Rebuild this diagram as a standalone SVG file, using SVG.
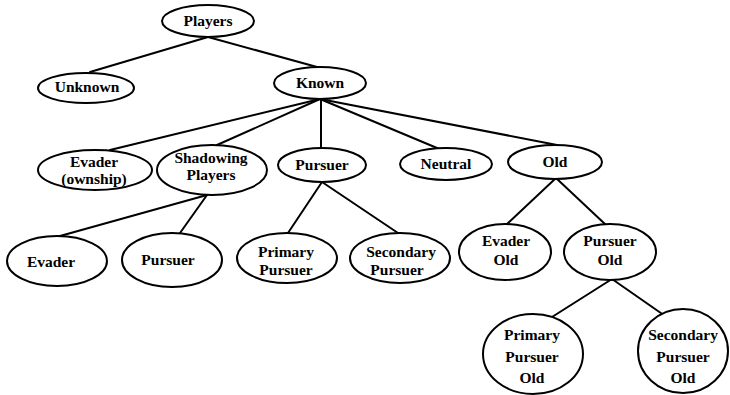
<svg xmlns="http://www.w3.org/2000/svg" width="730" height="395" viewBox="0 0 730 395">
  <style>
    .node ellipse { fill: #ffffff; stroke: #000000; stroke-width: 2; }
    .node text { font-weight: bold; font-size: 15.5px; fill: #000000; text-anchor: middle; }
    #connectors line { stroke: #000000; stroke-width: 2; stroke-linecap: round; }
  </style>
  <rect width="730" height="395" fill="#ffffff"/>

  <!-- tree edges -->
  <g id="connectors">
    <line x1="208" y1="37" x2="90" y2="72"/>
    <line x1="208" y1="37" x2="317" y2="67"/>
    <line x1="320" y1="99" x2="110" y2="150"/>
    <line x1="320" y1="99" x2="217" y2="145"/>
    <line x1="321" y1="99" x2="321" y2="148"/>
    <line x1="320" y1="99" x2="437" y2="148"/>
    <line x1="320" y1="99" x2="557" y2="145"/>
    <line x1="207" y1="195" x2="60" y2="236"/>
    <line x1="207" y1="195" x2="180" y2="233"/>
    <line x1="322" y1="182" x2="288" y2="233"/>
    <line x1="322" y1="182" x2="398" y2="233"/>
    <line x1="556" y1="178" x2="507" y2="224"/>
    <line x1="556" y1="178" x2="606" y2="225"/>
    <line x1="612" y1="279" x2="552" y2="317"/>
    <line x1="612" y1="279" x2="668" y2="318"/>
  </g>

  <g id="nodes" font-family="Liberation Serif, DejaVu Serif, serif">
  <g id="players" class="node">
    <ellipse cx="208" cy="21" rx="46" ry="16"/>
    <text x="208" y="26">Players</text>
  </g>
  <g id="unknown" class="node">
    <ellipse cx="86" cy="88" rx="48" ry="15"/>
    <text x="87" y="92">Unknown</text>
  </g>
  <g id="known" class="node">
    <ellipse cx="320" cy="83" rx="46" ry="16"/>
    <text x="320" y="88">Known</text>
  </g>
  <g id="evader-ownship" class="node">
    <ellipse cx="95" cy="170" rx="57" ry="20"/>
    <text x="94" y="167">Evader</text>
    <text x="94" y="184">(ownship)</text>
  </g>
  <g id="shadowing-players" class="node">
    <ellipse cx="212" cy="170" rx="55" ry="25"/>
    <text x="211" y="163">Shadowing</text>
    <text x="211" y="180">Players</text>
  </g>
  <g id="pursuer" class="node">
    <ellipse cx="322" cy="165" rx="44" ry="17"/>
    <text x="322" y="170">Pursuer</text>
  </g>
  <g id="neutral" class="node">
    <ellipse cx="446" cy="164" rx="46" ry="16"/>
    <text x="446" y="169">Neutral</text>
  </g>
  <g id="old" class="node">
    <ellipse cx="555" cy="162" rx="47" ry="17"/>
    <text x="555" y="167">Old</text>
  </g>
  <g id="shadow-evader" class="node">
    <ellipse cx="57" cy="261" rx="50" ry="25"/>
    <text x="51" y="267">Evader</text>
  </g>
  <g id="shadow-pursuer" class="node">
    <ellipse cx="172" cy="260" rx="50" ry="27"/>
    <text x="168" y="265">Pursuer</text>
  </g>
  <g id="primary-pursuer" class="node">
    <ellipse cx="287" cy="258" rx="50" ry="25"/>
    <text x="286" y="257">Primary</text>
    <text x="286" y="275">Pursuer</text>
  </g>
  <g id="secondary-pursuer" class="node">
    <ellipse cx="400" cy="258" rx="50" ry="25"/>
    <text x="401" y="257">Secondary</text>
    <text x="397" y="275">Pursuer</text>
  </g>
  <g id="evader-old" class="node">
    <ellipse cx="505" cy="252" rx="46" ry="28"/>
    <text x="506" y="246">Evader</text>
    <text x="506" y="265">Old</text>
  </g>
  <g id="pursuer-old" class="node">
    <ellipse cx="610" cy="252" rx="46" ry="28"/>
    <text x="610" y="246">Pursuer</text>
    <text x="610" y="265">Old</text>
  </g>
  <g id="primary-pursuer-old" class="node">
    <ellipse cx="533" cy="354" rx="50" ry="40"/>
    <text x="532" y="340">Primary</text>
    <text x="532" y="362">Pursuer</text>
    <text x="532" y="383">Old</text>
  </g>
  <g id="secondary-pursuer-old" class="node">
    <ellipse cx="683" cy="351" rx="45" ry="42"/>
    <text x="683" y="340">Secondary</text>
    <text x="683" y="362">Pursuer</text>
    <text x="683" y="383">Old</text>
  </g>
  </g>
</svg>
